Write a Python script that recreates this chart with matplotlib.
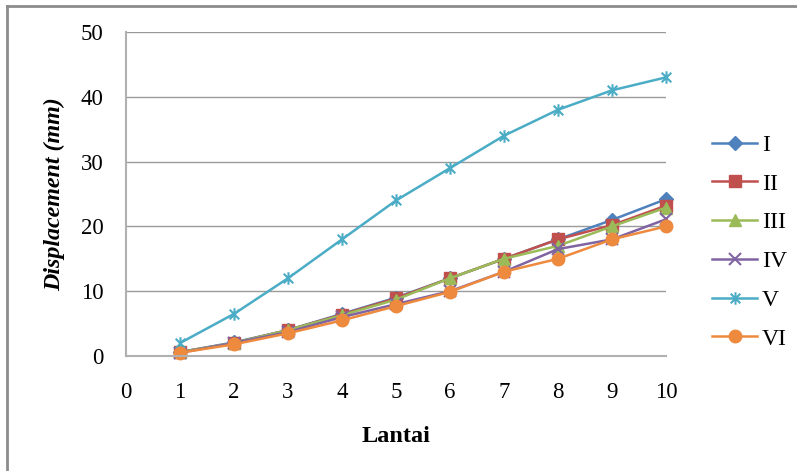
import matplotlib
matplotlib.use("Agg")
import matplotlib.pyplot as plt
from matplotlib.path import Path
from matplotlib.lines import Line2D

lantai = [1, 2, 3, 4, 5, 6, 7, 8, 9, 10]
s_I = [0.6, 2.1, 4.0, 6.5, 9.0, 12.0, 15.0, 18.0, 21.0, 24.2]
s_II = [0.6, 2.0, 4.0, 6.4, 8.9, 12.0, 15.0, 18.0, 20.2, 23.2]
s_III = [0.6, 2.0, 4.0, 6.3, 8.7, 12.0, 15.0, 17.0, 20.0, 22.9]
s_IV = [0.5, 2.0, 3.7, 6.0, 8.0, 10.0, 13.0, 16.5, 18.0, 21.1]
s_V = [2.0, 6.5, 12.0, 18.0, 24.0, 29.0, 34.0, 38.0, 41.0, 43.0]
s_VI = [0.5, 1.8, 3.5, 5.5, 7.7, 9.9, 13.0, 15.0, 18.0, 20.0]
labels = ["I", "II", "III", "IV", "V", "VI"]
xticks = [0, 1, 2, 3, 4, 5, 6, 7, 8, 9, 10]
yticks = [0, 10, 20, 30, 40, 50]

series = [s_I, s_II, s_III, s_IV, s_V, s_VI]
colors = ["#4F81BD", "#C0504D", "#9BBB59", "#8064A2", "#4BACC6", "#EE8A3E"]

# Excel-style asterisk: x plus vertical bar
ast = Path([(-1, -1), (1, 1), (-1, 1), (1, -1), (0, -1.3), (0, 1.3)],
           [Path.MOVETO, Path.LINETO, Path.MOVETO, Path.LINETO, Path.MOVETO, Path.LINETO])
markers = ["D", "s", "^", "x", ast, "o"]
msizes = [7, 8, 8.5, 8, 9, 9]

plt.rcParams['font.family'] = ['Liberation Serif', 'DejaVu Serif']

fig = plt.figure(figsize=(7.97, 4.71), dpi=100)
ax = fig.add_axes([126/797, 1-356/471, (666-126)/797, (356-32)/471])

for ys, c, m, ms, lab in zip(series, colors, markers, msizes, labels):
    mew = 1.5 if lab in ("IV", "V") else 1.0
    ax.plot(lantai, ys, color=c, lw=1.8, marker=m, markersize=ms,
            markeredgecolor=c, markerfacecolor=c, markeredgewidth=mew, label=lab,
            clip_on=False)

ax.set_xlim(0, 10)
ax.set_ylim(0, 50)
ax.set_xticks(xticks)
ax.set_yticks(yticks)
ax.tick_params(axis='both', length=0, labelsize=16.5)
ax.tick_params(axis='x', pad=19)
ax.tick_params(axis='y', pad=16)
ax.yaxis.grid(True, color="#9A9A9A", lw=1.0)
ax.set_axisbelow(True)
for s in ("top", "right"):
    ax.spines[s].set_visible(False)
for s in ("left", "bottom"):
    ax.spines[s].set_color("#B0B0B0")
    ax.spines[s].set_linewidth(1.5)

ax.set_xlabel("Lantai", fontsize=17.5, fontweight='bold', labelpad=16)
ax.set_ylabel("Displacement (mm)", fontsize=17.3, fontweight='bold', style='italic', labelpad=11)

leg = ax.legend(loc='upper left', bbox_to_anchor=(691/797, 1-113/471),
                bbox_transform=fig.transFigure, frameon=False, fontsize=17,
                handlelength=1.9, labelspacing=0.73, handletextpad=0.2)

# figure border (top and left)
fig.add_artist(Line2D([7/797, 1], [1-6/471, 1-6/471], transform=fig.transFigure,
                      color="#8C8C8C", lw=2))
fig.add_artist(Line2D([7/797, 7/797], [0, 1-6/471], transform=fig.transFigure,
                      color="#8C8C8C", lw=2))

fig.savefig("out.png", dpi=100)
